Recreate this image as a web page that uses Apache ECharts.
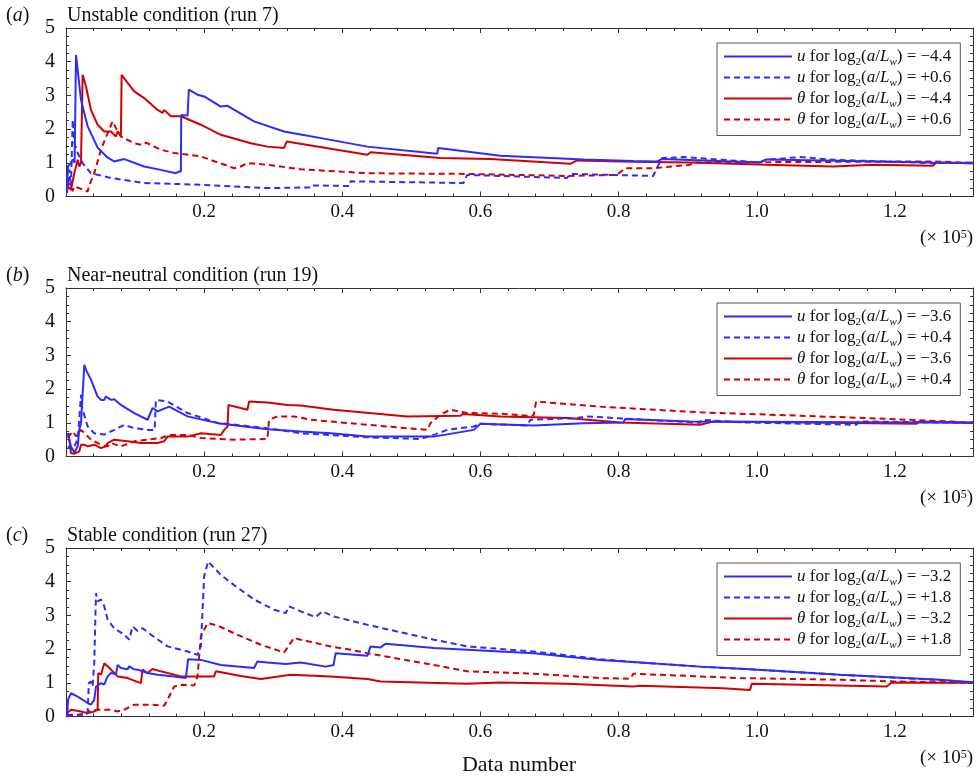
<!DOCTYPE html>
<html>
<head>
<meta charset="utf-8">
<script src="https://cdn.jsdelivr.net/npm/echarts@6/dist/echarts.min.js"></script>
<style>
  html, body { margin:0; padding:0; background:#fff; }
  #chart { width:980px; height:779px; }
</style>
</head>
<body>
<div id="chart"></div>
<script>
// x values in units of 1e5 data points
const panelTags   = ["a", "b", "c"];
const panelTitles = ["Unstable condition (run 7)", "Near-neutral condition (run 19)", "Stable condition (run 27)"];
const ratioLow    = ["−4.4", "−3.6", "−3.2"];
const ratioHigh   = ["+0.6", "+0.4", "+1.8"];
const yTicks      = [0, 1, 2, 3, 4, 5];
const xTickLabels = ["0.2", "0.4", "0.6", "0.8", "1.0", "1.2"];

// panel (a) unstable
const aUlow = [[0.0014,0.30],[0.003,0.9],[0.0072,1.0],[0.010,1.1],[0.0125,1.0],[0.0145,4.2],[0.0217,2.87],[0.0314,2.08],[0.0458,1.45],[0.0603,1.15],[0.0698,1.04],[0.0843,1.11],[0.1132,0.89],[0.1373,0.79],[0.1590,0.69],[0.1634,0.74],[0.1663,0.74],[0.1668,2.42],[0.1760,2.40],[0.1778,3.17],[0.1904,3.02],[0.2,2.97],[0.2241,2.67],[0.2338,2.69],[0.2722,2.23],[0.3156,1.93],[0.3397,1.84],[0.3831,1.68],[0.4362,1.48],[0.5374,1.27],[0.5388,1.44],[0.6289,1.21],[0.7493,1.10],[0.8212,1.05],[0.8554,1.04],[0.8627,1.11],[1.0048,1.01],[1.0145,1.10],[1.2549,1.01],[1.313,0.99]];
const aUhigh = [[0.0014,0.1],[0.005,0.8],[0.0072,0.3],[0.0097,2.28],[0.0120,1.6],[0.0169,1.29],[0.0241,0.99],[0.0361,0.69],[0.0651,0.55],[0.1132,0.40],[0.1952,0.35],[0.2916,0.25],[0.3542,0.27],[0.3556,0.33],[0.4105,0.31],[0.4120,0.45],[0.5754,0.40],[0.5807,0.64],[0.7253,0.55],[0.7301,0.67],[0.8501,0.61],[0.8554,0.84],[0.8627,1.14],[0.8935,1.17],[1.0048,1.01],[1.0120,1.09],[1.0626,1.17],[1.1103,1.09],[1.2549,0.99],[1.313,1.0]];
const aTlow = [[0.0014,0.5],[0.003,0.3],[0.0072,0.2],[0.012,0.69],[0.0169,1.09],[0.0192,0.89],[0.0217,1.0],[0.0235,0.95],[0.0241,3.61],[0.0289,3.27],[0.0361,2.57],[0.0458,2.13],[0.0554,1.93],[0.0651,1.93],[0.0723,1.78],[0.0747,1.93],[0.0795,1.80],[0.0805,3.61],[0.0892,3.37],[0.0987,3.12],[0.1132,2.92],[0.1326,2.57],[0.1398,2.48],[0.1421,2.57],[0.1518,2.38],[0.1663,2.38],[0.1952,2.13],[0.2241,1.83],[0.2675,1.58],[0.2916,1.48],[0.3156,1.44],[0.3195,1.63],[0.3831,1.42],[0.4362,1.24],[0.4409,1.31],[0.5421,1.14],[0.6144,1.11],[0.7301,0.97],[0.7398,1.07],[0.8212,1.03],[0.9036,1.01],[1.0145,0.94],[1.1103,0.89],[1.1681,0.94],[1.2549,0.91],[1.2602,1.01],[1.313,0.99]];
const aThigh = [[0.0014,0.5],[0.0072,0.26],[0.0097,0.16],[0.012,0.3],[0.0314,0.15],[0.0330,0.3],[0.0409,0.69],[0.0506,1.39],[0.0603,1.88],[0.0675,2.23],[0.0723,2.03],[0.0795,1.78],[0.0987,1.58],[0.1109,1.53],[0.1157,1.6],[0.1373,1.39],[0.1566,1.29],[0.1952,1.19],[0.2433,0.84],[0.2530,0.89],[0.2627,0.99],[0.2916,0.94],[0.3397,0.81],[0.4362,0.69],[0.5807,0.67],[0.7253,0.61],[0.7976,0.64],[0.8096,0.84],[0.8501,0.84],[0.9036,0.94],[0.9079,1.01],[1.2549,1.04],[1.313,1.0]];

// panel (b) near-neutral
const bUlow = [[0.0025,0.69],[0.0072,0.3],[0.012,0.12],[0.0169,0.3],[0.0192,0.79],[0.0217,0.99],[0.024,0.95],[0.0265,2.72],[0.0289,2.57],[0.0361,2.28],[0.0458,1.78],[0.0506,1.68],[0.0554,1.68],[0.0578,1.78],[0.0651,1.68],[0.0698,1.70],[0.0795,1.53],[0.0987,1.29],[0.1181,1.09],[0.1253,1.44],[0.1326,1.34],[0.1493,1.48],[0.1759,1.19],[0.2193,0.99],[0.2916,0.81],[0.3397,0.74],[0.3831,0.69],[0.4362,0.59],[0.5325,0.59],[0.5903,0.79],[0.6,0.97],[0.6770,0.92],[0.7493,0.99],[0.8067,1.01],[0.8096,1.11],[0.9036,1.04],[1.313,1.0]];
const bUhigh = [[0.0025,0.3],[0.0097,0.2],[0.0169,0.51],[0.0192,1.09],[0.0217,1.83],[0.0229,1.5],[0.0241,1.39],[0.0314,0.89],[0.0409,0.69],[0.0554,0.65],[0.0698,0.79],[0.0843,0.94],[0.0987,0.84],[0.1181,0.79],[0.1283,0.79],[0.1301,1.68],[0.1470,1.63],[0.1759,1.29],[0.2193,1.0],[0.2916,0.84],[0.3397,0.69],[0.4362,0.57],[0.5132,0.52],[0.5325,0.64],[0.5518,0.79],[0.5903,0.89],[0.6,0.97],[0.6675,0.92],[0.6723,1.09],[0.7398,1.14],[0.7542,1.19],[0.8212,1.11],[0.9180,1.0],[0.9200,1.09],[0.9802,1.01],[1.1446,0.94],[1.1470,1.04],[1.313,1.0]];
const bTlow = [[0.0025,0.6],[0.0036,0.69],[0.0072,0.1],[0.012,0.08],[0.0192,0.15],[0.0217,0.35],[0.0265,0.35],[0.0314,0.3],[0.0409,0.35],[0.0506,0.25],[0.0578,0.3],[0.0603,0.4],[0.0698,0.5],[0.0892,0.45],[0.1084,0.4],[0.1326,0.4],[0.1421,0.45],[0.1470,0.59],[0.1759,0.59],[0.1952,0.69],[0.2241,0.64],[0.2290,0.79],[0.2338,0.89],[0.2352,1.53],[0.2627,1.39],[0.2650,1.63],[0.2916,1.6],[0.3205,1.53],[0.3397,1.51],[0.3874,1.39],[0.4940,1.19],[0.5711,1.21],[0.5740,1.26],[0.6289,1.19],[0.7253,1.14],[0.8024,1.01],[0.9180,0.94],[0.9368,1.04],[1.2313,0.97],[1.2350,1.04],[1.313,1.0]];
const bThigh = [[0.0025,0.55],[0.0097,0.74],[0.0145,0.6],[0.0217,0.79],[0.0265,0.7],[0.0361,0.5],[0.0506,0.35],[0.0603,0.3],[0.0651,0.4],[0.0795,0.3],[0.0987,0.45],[0.1373,0.55],[0.1518,0.64],[0.1759,0.64],[0.1952,0.55],[0.2433,0.5],[0.2916,0.52],[0.2939,1.09],[0.3061,1.19],[0.3301,1.19],[0.3542,1.09],[0.3831,1.04],[0.4362,0.94],[0.5229,0.79],[0.5277,0.99],[0.5421,1.24],[0.5566,1.39],[0.5807,1.29],[0.6289,1.27],[0.6675,1.21],[0.6770,1.22],[0.6805,1.63],[0.7734,1.48],[0.9180,1.31],[1.0626,1.21],[1.1590,1.14],[1.313,1.01]];

// panel (c) stable
const cUlow = [[0.0014,0.0],[0.003,0.5],[0.0072,0.69],[0.0097,0.74],[0.0169,0.59],[0.0314,0.4],[0.0361,0.35],[0.0409,0.5],[0.0434,0.89],[0.0506,0.99],[0.0554,0.95],[0.0603,1.19],[0.0651,1.29],[0.0723,1.25],[0.0747,1.53],[0.0795,1.44],[0.0892,1.40],[0.0915,1.49],[0.0987,1.40],[0.1037,1.39],[0.1181,1.29],[0.1326,1.24],[0.1566,1.19],[0.1735,1.14],[0.1768,1.70],[0.1952,1.68],[0.2241,1.53],[0.2722,1.44],[0.2771,1.63],[0.2916,1.6],[0.3181,1.56],[0.3397,1.6],[0.3759,1.48],[0.3874,1.53],[0.3903,1.88],[0.4362,1.80],[0.4409,2.08],[0.4554,2.05],[0.4626,2.16],[0.5325,2.03],[0.5807,1.98],[0.6770,1.88],[0.7734,1.68],[0.8313,1.60],[0.9180,1.48],[0.9903,1.40],[1.1204,1.24],[1.2650,1.09],[1.313,1.02]];
const cUhigh = [[0.0014,0.0],[0.0314,0.1],[0.0330,0.99],[0.0361,1.04],[0.0385,0.89],[0.0409,1.58],[0.0434,3.66],[0.0458,3.42],[0.0506,3.47],[0.0554,3.27],[0.0603,2.87],[0.0698,2.62],[0.0843,2.43],[0.0915,2.28],[0.0964,2.67],[0.1037,2.54],[0.1109,2.62],[0.1229,2.43],[0.1470,2.08],[0.1759,1.93],[0.1904,1.83],[0.1952,2.08],[0.2,4.16],[0.2057,4.6],[0.2241,4.2],[0.2433,3.9],[0.2722,3.47],[0.3011,3.17],[0.3181,3.07],[0.3228,3.27],[0.3397,3.12],[0.3614,2.95],[0.3711,3.12],[0.3874,2.97],[0.4362,2.72],[0.5325,2.28],[0.5807,2.08],[0.6770,1.93],[0.7734,1.70],[0.8313,1.60],[0.9180,1.48],[0.9903,1.40],[1.1204,1.24],[1.2650,1.08],[1.313,1.0]];
const cTlow = [[0.0014,0.1],[0.0072,0.2],[0.0217,0.15],[0.0314,0.1],[0.0409,0.15],[0.0458,0.2],[0.0467,1.29],[0.0506,1.24],[0.0554,1.58],[0.0603,1.49],[0.0747,1.19],[0.0892,1.14],[0.1084,0.99],[0.1109,1.39],[0.1181,1.29],[0.1253,1.41],[0.1373,1.34],[0.1663,1.19],[0.1952,1.19],[0.2144,1.19],[0.2169,1.34],[0.2530,1.20],[0.2819,1.11],[0.3253,1.24],[0.3831,1.19],[0.4362,1.11],[0.4554,1.04],[0.5807,0.97],[0.6289,1.01],[0.7253,0.97],[0.8212,0.89],[0.8313,0.91],[0.9513,0.84],[0.9903,0.79],[0.9928,0.97],[1.1880,0.89],[1.1952,1.01],[1.313,1.0]];
const cThigh = [[0.0014,0.05],[0.03,0.05],[0.0314,0.15],[0.0458,0.2],[0.0651,0.2],[0.0747,0.15],[0.0843,0.2],[0.0987,0.35],[0.1229,0.35],[0.1421,0.32],[0.1470,0.5],[0.1566,0.89],[0.1687,0.94],[0.1855,0.92],[0.1904,1.19],[0.1952,2.38],[0.2049,2.77],[0.2193,2.70],[0.2433,2.47],[0.2819,2.13],[0.3156,1.9],[0.3301,2.33],[0.3397,2.28],[0.3831,2.08],[0.4120,1.98],[0.4362,1.88],[0.5325,1.53],[0.5807,1.34],[0.6770,1.27],[0.7734,1.14],[0.8168,1.12],[0.8212,1.27],[0.9759,1.14],[1.1204,1.09],[1.2,1.04],[1.313,1.0]];

const panelData = [
  [aUlow, aUhigh, aTlow, aThigh],
  [bUlow, bUhigh, bTlow, bThigh],
  [cUlow, cUhigh, cTlow, cThigh]
];

const SERIF = '"Liberation Serif", "DejaVu Serif", serif';
const INK = "#111";
const FRAME = "#333";
const BLUE = "#2c2cff";
const RED = "#d40000";
const gridTops = [28, 288, 548];
const gridH = 168.5;
const X_MAX = 1.313;

function seriesName(v, r){ return `${v} for log2(a/Lw) = ${r}`; }

const legendRich = {
  n:  { fontFamily: SERIF, fontSize: 17, lineHeight: 22, color: INK },
  i:  { fontFamily: SERIF, fontSize: 17, lineHeight: 22, color: INK, fontStyle: "italic" },
  s:  { fontFamily: SERIF, fontSize: 11, lineHeight: 11, color: INK, verticalAlign: "bottom" },
  si: { fontFamily: SERIF, fontSize: 11, lineHeight: 11, color: INK, verticalAlign: "bottom", fontStyle: "italic" }
};
function legendText(name){
  const v = name.charAt(0);
  const r = name.split("= ")[1];
  return `{i|${v}}{n| for log}{s|2}{n|(}{i|a}{n|/}{i|L}{si|w}{n|) = ${r}}`;
}

function isMajor(v){ const k = v / 0.2; return v > 0 && Math.abs(k - Math.round(k)) < 1e-6; }

const grids = [], xAxes = [], yAxes = [], series = [], legends = [], graphics = [];

panelTitles.forEach((title, i) => {
  grids.push({ left: 66, right: 7, top: gridTops[i], height: gridH });

  const tickStyle = { lineStyle: { color: FRAME, width: 1 } };
  const base = {
    gridIndex: i, type: "value", min: 0, max: X_MAX, interval: 0.2,
    axisLine: { show: true, onZero: false, lineStyle: { color: FRAME, width: 1 } },
    axisTick: Object.assign({ show: true, inside: true, length: 5 }, tickStyle),
    minorTick: Object.assign({ show: true, splitNumber: 5, length: 3 }, tickStyle),
    splitLine: { show: false }
  };
  xAxes.push(Object.assign({}, base, {
    position: "bottom",
    axisLabel: {
      fontFamily: SERIF, fontSize: 19, color: INK, margin: 6,
      formatter: v => isMajor(v) ? xTickLabels[Math.round(v / 0.2) - 1] : ""
    }
  }));
  xAxes.push(Object.assign({}, base, { position: "top", axisLabel: { show: false } }));

  const ybase = {
    gridIndex: i, type: "value", min: 0, max: 5, interval: 1,
    axisLine: { show: true, onZero: false, lineStyle: { color: FRAME, width: 1 } },
    axisTick: Object.assign({ show: true, inside: true, length: 5 }, tickStyle),
    minorTick: Object.assign({ show: true, splitNumber: 4, length: 3 }, tickStyle),
    splitLine: { show: false }
  };
  yAxes.push(Object.assign({}, ybase, {
    position: "left",
    axisLabel: { fontFamily: SERIF, fontSize: 20, color: INK, margin: 11,
      formatter: v => yTicks.includes(v) ? String(v) : "" }
  }));
  yAxes.push(Object.assign({}, ybase, { position: "right", axisLabel: { show: false } }));

  const names = [
    seriesName("u", ratioLow[i]), seriesName("u", ratioHigh[i]),
    seriesName("θ", ratioLow[i]), seriesName("θ", ratioHigh[i])
  ];
  const colors = [BLUE, BLUE, RED, RED];
  const dashes = ["solid", [6, 4], "solid", [6, 4]];

  names.forEach((nm, k) => {
    series.push({
      name: nm, type: "line", xAxisIndex: 2 * i, yAxisIndex: 2 * i,
      data: panelData[i][k], symbol: "none", showSymbol: false,
      lineStyle: { color: colors[k], width: 2, type: dashes[k] },
      itemStyle: { color: colors[k] },
      z: k < 2 ? 3 : 2
    });
  });

  legends.push({
    data: names, orient: "vertical", left: 717, top: gridTops[i] + 15,
    padding: [5, 9, 5, 6], itemGap: 1.5, itemWidth: 68, itemHeight: 14,
    borderColor: "#555", borderWidth: 1, backgroundColor: "#fff",
    selectedMode: false,
    itemStyle: { opacity: 0 },
    formatter: legendText,
    textStyle: { fontFamily: SERIF, fontSize: 17, color: INK, rich: legendRich }
  });

  const y0 = gridTops[i] - 12;
  graphics.push({
    type: "text", x: 6, y: y0, style: {
      text: `({i|${panelTags[i]}})`, fontFamily: SERIF, fontSize: 20, fill: INK, verticalAlign: "middle",
      rich: { i: { fontFamily: SERIF, fontSize: 20, fontStyle: "italic" } }
    }
  });
  graphics.push({
    type: "text", x: 67, y: y0, style: {
      text: title, fontFamily: SERIF, fontSize: 20, fill: INK, verticalAlign: "middle"
    }
  });
  graphics.push({
    type: "text", x: 973, y: gridTops[i] + gridH + 42, style: {
      text: "(× 10{sup|5})", fontFamily: SERIF, fontSize: 19, fill: INK,
      align: "right", verticalAlign: "middle",
      rich: {
        sup: { fontFamily: SERIF, fontSize: 12, lineHeight: 11, verticalAlign: "top" }
      }
    }
  });
});

graphics.push({
  type: "text", x: 519, y: 765, style: {
    text: "Data number", fontFamily: SERIF, fontSize: 22, fill: INK,
    align: "center", verticalAlign: "middle"
  }
});

const chart = echarts.init(document.getElementById("chart"));
chart.setOption({
  animation: false,
  backgroundColor: "#fff",
  grid: grids,
  xAxis: xAxes,
  yAxis: yAxes,
  legend: legends,
  graphic: graphics,
  series: series
});
</script>
</body>
</html>
